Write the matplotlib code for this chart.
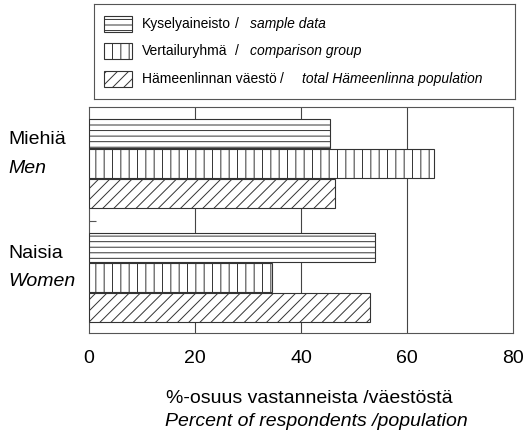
import matplotlib
matplotlib.use("Agg")
import matplotlib.pyplot as plt
from matplotlib.patches import Rectangle
from matplotlib.transforms import blended_transform_factory

plt.rcParams['font.family'] = ['Liberation Sans', 'DejaVu Sans']
plt.rcParams['hatch.linewidth'] = 0.7
plt.rcParams['hatch.color'] = '#333333'

# data
groups_fi = ['Miehiä', 'Naisia']
groups_en = ['Men', 'Women']
sample = [45.5, 54]
comparison = [65, 34.5]
population = [46.5, 53]
series_fi = ['Kyselyaineisto', 'Vertailuryhmä', 'Hämeenlinnan väestö']
series_en = ['sample data', 'comparison group', 'total Hämeenlinna population']
hatches = ['---', '||', '///']
xticks = [0, 20, 40, 60, 80]

W, H = 527, 440
fig = plt.figure(figsize=(W / 100, H / 100), dpi=100)
ax = fig.add_axes([89 / W, 1 - 333 / H, (513 - 89) / W, (333 - 107) / H])

ypos = [1, 0]
step = 0.265
edge = '#333333'
for vals, off, hatch in zip([sample, comparison, population], [step, 0, -step], hatches):
    ax.barh([y + off for y in ypos], vals, height=step * 0.97, color='white',
            edgecolor=edge, linewidth=0.8, hatch=hatch, zorder=3)

ax.set_xlim(0, 80)
ax.set_ylim(-0.49, 1.5)
ax.set_xticks(xticks)
ax.set_xticklabels([str(t) for t in xticks], fontsize=14)
ax.tick_params(axis='x', length=0, pad=12)
ax.set_yticks([0.5])
ax.set_yticklabels([''])
ax.tick_params(axis='y', direction='in', length=5, width=0.8, color='#555555')
for t in [20, 40, 60]:
    ax.axvline(t, color='#444444', linewidth=0.8, zorder=1)
for s in ax.spines.values():
    s.set_linewidth(0.8)
    s.set_color('#555555')

# group labels
tr = blended_transform_factory(fig.transFigure, ax.transData)
for y, fi, en in zip(ypos, groups_fi, groups_en):
    ax.text(8 / W, y + 0.21, fi, transform=tr, fontsize=14, va='center', ha='left')
    ax.text(8 / W, y - 0.04, en, transform=tr, fontsize=14, va='center', ha='left',
            style='italic')

# axis title
fig.text(309 / W, 1 - 398 / H, '%-osuus vastanneista /väestöstä', fontsize=14,
         ha='center', va='center')
fig.text(316 / W, 1 - 421 / H, 'Percent of respondents /population', fontsize=14,
         ha='center', va='center', style='italic')

# legend
lax = fig.add_axes([94 / W, 1 - 99 / H, (515 - 94) / W, 95 / H])
lax.set_xlim(94, 515)
lax.set_ylim(99, 4)
lax.set_xticks([])
lax.set_yticks([])
for s in lax.spines.values():
    s.set_linewidth(0.8)
    s.set_color('#555555')
row_y = [24, 51, 79]
slash_x = [235, 235, 280]
en_x = [250, 250, 302]
for yy, fi, en, hatch, sx, ex in zip(row_y, series_fi, series_en, hatches, slash_x, en_x):
    lax.add_patch(Rectangle((104, yy - 8), 28, 16, facecolor='white', edgecolor=edge,
                            linewidth=0.8, hatch=hatch))
    lax.text(142, yy, fi, fontsize=10, va='center', ha='left')
    lax.text(sx, yy, '/', fontsize=10, va='center', ha='left')
    lax.text(ex, yy, en, fontsize=10, va='center', ha='left', style='italic')

fig.savefig('out.png', dpi=100)
